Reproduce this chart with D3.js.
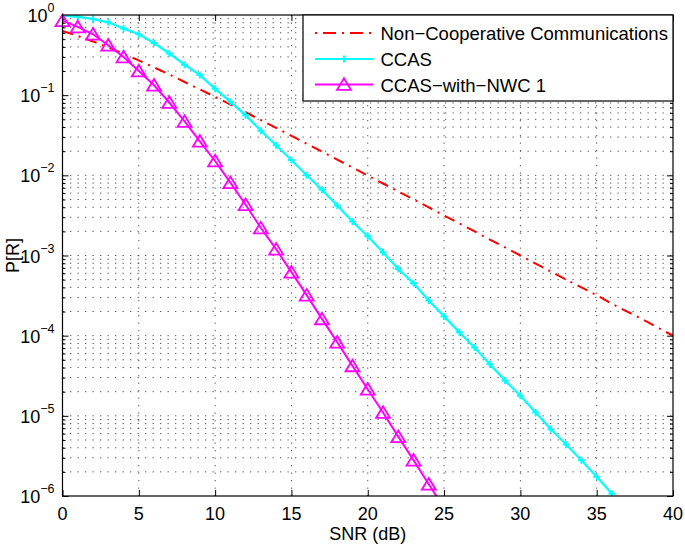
<!DOCTYPE html>
<html>
<head>
<meta charset="utf-8">
<script src="https://cdn.jsdelivr.net/npm/d3@7"></script>
<style>
  html, body { margin: 0; padding: 0; background: #fff; }
  svg { display: block; }
  text { font-family: "Liberation Sans", Arial, Helvetica, sans-serif; fill: #000; }
</style>
</head>
<body>
<svg id="chart" width="685" height="546"></svg>
<script>
// ---------- data ----------
const snrNonCoop = d3.range(0, 41);
const nonCoop = [0.632, 0.548, 0.468, 0.394, 0.328, 0.271, 0.222, 0.181, 0.146, 0.118,
  0.0952, 0.0764, 0.0612, 0.0489, 0.0390, 0.0311, 0.0248, 0.0198, 0.0157, 0.0125,
  0.00995, 0.00791, 0.00631, 0.00501, 0.00398, 0.00316, 0.00251, 0.00200, 0.00158, 0.00126,
  0.00100, 7.9e-4, 6.3e-4, 5.0e-4, 4.0e-4, 3.2e-4, 2.5e-4, 2.0e-4, 1.6e-4, 1.26e-4, 1.0e-4];

const snrCcas = d3.range(0, 37);
const ccas = [0.972, 0.955, 0.89, 0.81, 0.68, 0.575, 0.447, 0.331, 0.24, 0.178,
  0.12, 0.083, 0.056, 0.036, 0.0237, 0.0155, 0.0100, 0.0066, 0.0042, 0.00266,
  0.00174, 0.0011, 6.8e-4, 4.5e-4, 2.75e-4, 1.74e-4, 1.1e-4, 7.1e-5, 4.4e-5, 2.75e-5,
  1.78e-5, 1.1e-5, 6.8e-6, 4.4e-6, 2.8e-6, 1.74e-6, 1.07e-6];

const snrNwc = d3.range(0, 26);
const ccasNwc = [0.85, 0.71, 0.575, 0.42, 0.30, 0.20, 0.133, 0.081, 0.047, 0.0266,
  0.0151, 0.0081, 0.0043, 0.0022, 0.0012, 6.2e-4, 3.2e-4, 1.62e-4, 8.3e-5, 4.2e-5,
  2.15e-5, 1.1e-5, 5.5e-6, 2.8e-6, 1.4e-6, 7.1e-7];

const xTicks = [0, 5, 10, 15, 20, 25, 30, 35, 40];
const yExponents = [0, -1, -2, -3, -4, -5, -6];
const seriesNames = ["Non\u2212Cooperative Communications", "CCAS", "CCAS\u2212with\u2212NWC 1"];
const xLabel = "SNR (dB)";
const yLabel = "P[R]";

// ---------- layout ----------
const L = 62.5, R = 673, T = 15, B = 496;
const svg = d3.select("#chart");
const x = d3.scaleLinear().domain([0, 40]).range([L, R]);
const y = d3.scaleLog().domain([1e-6, 1]).range([B, T]);

const majorY = yExponents.map(e => Math.pow(10, e));
const minorY = [];
for (let e = -6; e < 0; e++) for (let k = 2; k <= 9; k++) minorY.push(k * Math.pow(10, e));

// ---------- grid ----------
const grid = svg.append("g").attr("stroke", "#555").attr("stroke-width", 1)
  .attr("stroke-dasharray", "1.3,6.2");
grid.selectAll("line.v").data(xTicks.filter(d => d > 0 && d < 40)).join("line")
  .attr("x1", d => x(d)).attr("x2", d => x(d)).attr("y1", T).attr("y2", B);
grid.selectAll("line.h").data(majorY.concat(minorY).filter(d => d > 1e-6 && d < 1)).join("line")
  .attr("class", "h")
  .attr("x1", L).attr("x2", R).attr("y1", d => y(d)).attr("y2", d => y(d));

// ---------- axes (ticks inward) ----------
function styleAxis(g) {
  g.select(".domain").remove();
  g.selectAll(".tick line").attr("stroke", "#000").attr("stroke-width", 1);
  g.selectAll(".tick text").remove();
}
svg.append("g").attr("transform", `translate(0,${B})`)
  .call(d3.axisBottom(x).tickValues(xTicks).tickSize(-6).tickFormat("")).call(styleAxis);
svg.append("g").attr("transform", `translate(0,${T})`)
  .call(d3.axisTop(x).tickValues(xTicks).tickSize(-6).tickFormat("")).call(styleAxis);
svg.append("g").attr("transform", `translate(${L},0)`)
  .call(d3.axisLeft(y).tickValues(majorY).tickSize(-6).tickFormat("")).call(styleAxis);
svg.append("g").attr("transform", `translate(${L},0)`)
  .call(d3.axisLeft(y).tickValues(minorY).tickSize(-3).tickFormat("")).call(styleAxis);
svg.append("g").attr("transform", `translate(${R},0)`)
  .call(d3.axisRight(y).tickValues(majorY).tickSize(-6).tickFormat("")).call(styleAxis);
svg.append("g").attr("transform", `translate(${R},0)`)
  .call(d3.axisRight(y).tickValues(minorY).tickSize(-3).tickFormat("")).call(styleAxis);

// tick labels
svg.append("g").selectAll("text").data(xTicks).join("text")
  .attr("x", d => x(d)).attr("y", B + 24).attr("text-anchor", "middle")
  .attr("font-size", 18).text(d => d);
const yl = svg.append("g").selectAll("text").data(yExponents).join("text")
  .attr("x", L - 8).attr("y", d => y(Math.pow(10, d)) + 7).attr("text-anchor", "end")
  .attr("font-size", 18);
yl.append("tspan").text("10");
yl.append("tspan").attr("dy", -10).attr("font-size", 12.5)
  .text(d => d === 0 ? "0" : "\u2212" + Math.abs(d));

// axis labels
svg.append("text").attr("x", x(20)).attr("y", 540).attr("text-anchor", "middle")
  .attr("font-size", 18).text(xLabel);
svg.append("text").attr("transform", `translate(19,${(T + B) / 2}) rotate(-90)`)
  .attr("text-anchor", "middle").attr("font-size", 18).text(yLabel);

// ---------- series ----------
svg.append("clipPath").attr("id", "clip").append("rect")
  .attr("x", L).attr("y", T).attr("width", R - L).attr("height", B - T);
const plot = svg.append("g").attr("clip-path", "url(#clip)");
const line = d3.line().x(d => x(d[0])).y(d => y(d[1]));

const redData = snrNonCoop.map((s, i) => [s, nonCoop[i]]);
const cyanData = snrCcas.map((s, i) => [s, ccas[i]]);
const magData = snrNwc.map((s, i) => [s, ccasNwc[i]]);

plot.append("path").datum(redData).attr("d", line).attr("fill", "none")
  .attr("stroke", "#ff0000").attr("stroke-width", 2).attr("stroke-dasharray", "11,6,2,6");
plot.append("path").datum(cyanData).attr("d", line).attr("fill", "none")
  .attr("stroke", "#00ffff").attr("stroke-width", 2.2);
plot.append("path").datum(magData).attr("d", line).attr("fill", "none")
  .attr("stroke", "#ff00ff").attr("stroke-width", 2);

const triPath = "M0,-6.2L7,5.4L-7,5.4Z";
const plusPath = "M-3.5,0H3.5M0,-3.5V3.5";
plot.selectAll("path.plus").data(cyanData.filter(d => d[1] >= 1e-6)).join("path")
  .attr("class", "plus").attr("d", plusPath)
  .attr("transform", d => `translate(${x(d[0])},${y(d[1])})`)
  .attr("stroke", "#00ffff").attr("stroke-width", 2).attr("fill", "none");
svg.selectAll("path.tri").data(magData.filter(d => d[1] >= 1e-6)).join("path")
  .attr("class", "tri").attr("d", triPath)
  .attr("transform", d => `translate(${x(d[0])},${y(d[1])})`)
  .attr("stroke", "#ff00ff").attr("stroke-width", 1.8).attr("fill", "none");

// axes box
svg.append("rect").attr("x", L).attr("y", T).attr("width", R - L).attr("height", B - T)
  .attr("fill", "none").attr("stroke", "#000").attr("stroke-width", 1.2);

// ---------- legend ----------
const lg = svg.append("g");
lg.append("rect").attr("x", 303).attr("y", T).attr("width", R - 303).attr("height", 86)
  .attr("fill", "#fff").attr("stroke", "#000").attr("stroke-width", 1.2);
const rows = [33, 59, 84.5];
const sx1 = 315, sx2 = 373, sxm = 344;
lg.append("line").attr("x1", sx1).attr("x2", sx2).attr("y1", rows[0]).attr("y2", rows[0])
  .attr("stroke", "#ff0000").attr("stroke-width", 2).attr("stroke-dasharray", "2,6,13,6");
lg.append("line").attr("x1", sx1).attr("x2", sx2).attr("y1", rows[1]).attr("y2", rows[1])
  .attr("stroke", "#00ffff").attr("stroke-width", 2.2);
lg.append("path").attr("d", plusPath).attr("transform", `translate(${sxm},${rows[1]})`)
  .attr("stroke", "#00ffff").attr("stroke-width", 2);
lg.append("line").attr("x1", sx1).attr("x2", sx2).attr("y1", rows[2]).attr("y2", rows[2])
  .attr("stroke", "#ff00ff").attr("stroke-width", 2);
lg.append("path").attr("d", triPath).attr("transform", `translate(${sxm},${rows[2]})`)
  .attr("stroke", "#ff00ff").attr("stroke-width", 1.8).attr("fill", "none");
lg.selectAll("text").data(seriesNames).join("text")
  .attr("x", 380.5).attr("y", (d, i) => rows[i] + 7).attr("font-size", 18.5).text(d => d);
</script>
</body>
</html>
